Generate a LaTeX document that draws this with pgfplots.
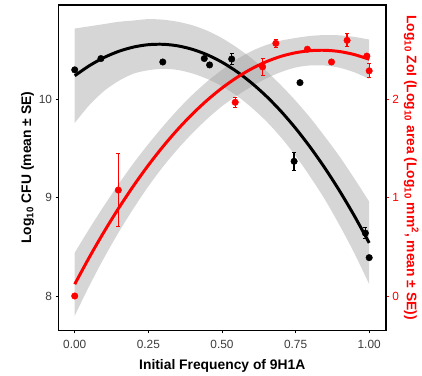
\documentclass[border=0pt]{standalone}
\usepackage{fontspec}
\setmainfont{Liberation Sans}
\usepackage{pgfplots}
\pgfplotsset{compat=1.18}
\usepackage{pgfplotstable}
\usepgfplotslibrary{fillbetween}

\definecolor{bandgray}{RGB}{153,153,153}
\definecolor{pred}{RGB}{255,0,0}
\definecolor{tickgray}{RGB}{60,60,60}

% CFU quadratic fit with confidence band
\pgfplotstableread{
x    fit     lo     hi
0.00 10.240  9.760 10.720
0.05 10.343  9.943 10.743
0.10 10.426 10.086 10.766
0.15 10.489 10.189 10.789
0.20 10.532 10.262 10.802
0.25 10.556 10.296 10.816
0.30 10.560 10.310 10.810
0.35 10.544 10.299 10.789
0.40 10.508 10.263 10.753
0.45 10.453 10.208 10.698
0.50 10.378 10.133 10.623
0.55 10.283 10.038 10.528
0.60 10.168  9.918 10.418
0.65 10.034  9.779 10.289
0.70  9.880  9.615 10.145
0.75  9.706  9.426  9.986
0.80  9.512  9.212  9.812
0.85  9.299  8.979  9.619
0.90  9.066  8.716  9.416
0.95  8.813  8.433  9.193
1.00  8.540  8.120  8.960
}\cfufit

\pgfplotstableread{
x     y      e
0.000 10.300 0.02
0.089 10.415 0.02
0.299 10.380 0.02
0.440 10.415 0.02
0.458 10.350 0.02
0.533 10.410 0.06
0.745  9.370 0.09
0.765 10.170 0.02
0.987  8.640 0.06
1.000  8.390 0.02
}\cfupts

% ZoI quadratic fit with confidence band
\pgfplotstableread{
x    fit    lo     hi
0.00 0.120 -0.200 0.440
0.05 0.396  0.106 0.686
0.10 0.655  0.390 0.920
0.15 0.897  0.652 1.142
0.20 1.122  0.892 1.352
0.25 1.330  1.115 1.545
0.30 1.521  1.316 1.726
0.35 1.695  1.495 1.895
0.40 1.852  1.657 2.047
0.45 1.992  1.802 2.182
0.50 2.115  1.930 2.300
0.55 2.221  2.036 2.406
0.60 2.310  2.130 2.490
0.65 2.382  2.212 2.552
0.70 2.437  2.277 2.597
0.75 2.474  2.324 2.624
0.80 2.495  2.345 2.645
0.85 2.499  2.344 2.654
0.90 2.486  2.321 2.651
0.95 2.455  2.275 2.635
1.00 2.408  2.208 2.608
}\zoifit

\pgfplotstableread{
x     y     e
0.000 0.000 0.02
0.148 1.077 0.37
0.545 1.970 0.05
0.638 2.330 0.09
0.683 2.570 0.04
0.790 2.510 0.02
0.872 2.380 0.03
0.925 2.600 0.065
0.992 2.440 0.02
1.000 2.290 0.07
}\zoipts

\begin{document}
\begin{tikzpicture}
\path (-59bp,-44bp) rectangle (363bp,333bp);
\pgfplotsset{every axis/.append style={
  scale only axis, width=330bp, height=328bp,
  xmin=-0.055, xmax=1.057,
  /pgf/number format/assume math mode=true,
  tick label style={font=\fontsize{12}{14}\selectfont},
  label style={font=\bfseries\fontsize{14}{16}\selectfont},
  major tick length=3bp, tick align=outside,
  axis line style={line width=1.2bp, -},
}}
\begin{axis}[
  ymin=7.65, ymax=10.96,
  xtick={0,0.25,0.5,0.75,1},
  xticklabels={0.00,0.25,0.50,0.75,1.00},
  ytick={8,9,10}, yticklabels={8,9,10},
  xtick pos=bottom, ytick pos=left,
  tick style={black, line width=0.8bp},
  tick label style={text=tickgray},
  x tick label style={yshift=-3bp},
  xlabel={Initial Frequency of 9H1A},
  xlabel style={yshift=-4bp},
  ylabel={Log\textsubscript{10} CFU (mean ± SE)},
  ylabel style={yshift=-2bp},
]
\addplot[only marks, mark=*, mark size=3.3bp, black,
  error bars/.cd, y dir=both, y explicit,
  error bar style={line width=1.3bp, black},
  error mark options={rotate=90, mark size=2bp, line width=1bp, black}]
  table[x=x, y=y, y error=e] {\cfupts};
\addplot[draw=none, name path=cu, smooth] table[x=x, y=hi] {\cfufit};
\addplot[draw=none, name path=cl, smooth] table[x=x, y=lo] {\cfufit};
\addplot[bandgray, fill opacity=0.4, draw=none] fill between[of=cu and cl];
\addplot[black, line width=3bp, smooth, no markers] table[x=x, y=fit] {\cfufit};
\end{axis}

\begin{axis}[
  ymin=-0.35, ymax=2.96,
  axis x line=none, axis y line*=right,
  ytick={0,1,2}, yticklabels={0,1,2},
  y tick label style={text=pred},
  y tick style={pred, line width=0.8bp},
  ylabel={Log\textsubscript{10} ZoI (Log\textsubscript{10} area (Log\textsubscript{10} mm\textsuperscript{2}, mean ± SE))},
  ylabel style={pred, rotate=180, yshift=-2bp},
]
\addplot[only marks, mark=*, mark size=3.3bp, pred,
  error bars/.cd, y dir=both, y explicit,
  error bar style={line width=1.3bp, pred},
  error mark options={rotate=90, mark size=2bp, line width=1bp, pred}]
  table[x=x, y=y, y error=e] {\zoipts};
\addplot[draw=none, name path=zu, smooth] table[x=x, y=hi] {\zoifit};
\addplot[draw=none, name path=zl, smooth] table[x=x, y=lo] {\zoifit};
\addplot[bandgray, fill opacity=0.4, draw=none] fill between[of=zu and zl];
\addplot[pred, line width=3bp, smooth, no markers] table[x=x, y=fit] {\zoifit};
\end{axis}
\end{tikzpicture}
\end{document}
